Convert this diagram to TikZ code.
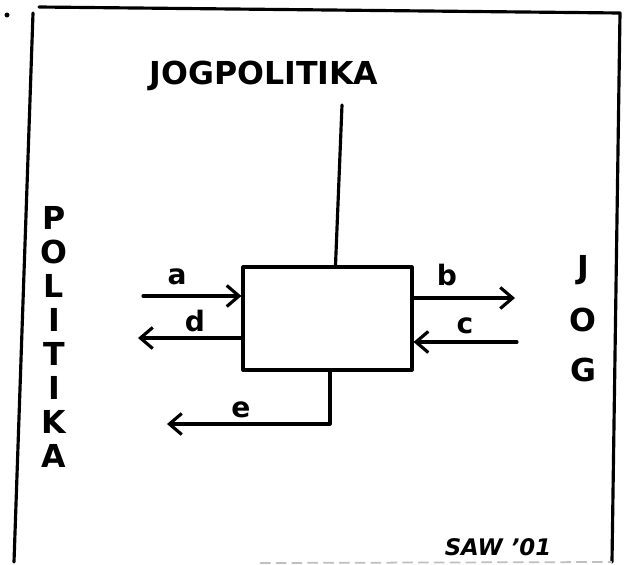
\documentclass[tikz,border=0pt]{standalone}
\usepackage{fontspec}
\setmainfont{DejaVu Sans}
\usetikzlibrary{positioning, arrows.meta, calc}

\begin{document}
\begin{tikzpicture}[
    x=0.02cm, y=-0.02cm,
    % Pen strokes of the sketch
    pen/.style={line width=1.8pt, line cap=round, line join=round},
    flow/.style={pen, -{Straight Barb[length=7pt, width=12pt, line width=1.8pt]}},
    % Lettering
    caps/.style={font=\bfseries\fontsize{18}{20}\selectfont},
    lbl/.style={font=\bfseries\fontsize{16}{18}\selectfont},
    sign/.style={font=\bfseries\itshape\fontsize{13}{14}\selectfont}
]
\useasboundingbox (0,0) rectangle (627,565);

% ==========================================
% FRAME
% ==========================================
\fill (7,15) circle [radius=1.4pt];
\draw[pen] (33,13) -- (14,562);
\draw[pen] (39,7) -- (620,13) -- (612,562);
\draw[gray!50, line width=1pt, dash pattern=on 6pt off 3pt] (260,563) -- (612,562);

% ==========================================
% CENTRE: THE BOX AND ITS FLOWS
% ==========================================
\node[pen, draw, minimum width=3.38cm, minimum height=2.06cm, inner sep=0] (box) at (327.5,318.5) {};

% Top: title and its line
\node[caps] (title) at (264,76) {JOGPOLITIKA};
\coordinate (jog_top) at (342,105);
\draw[pen] (jog_top) -- ($(box.north)+(8,0)$);

% Left side: a in, d out
\coordinate (a_from) at (143,296);
\draw[flow] (a_from) -- (a_from -| box.west);
\node[lbl] (a_lbl) at (177,277) {a};
\coordinate (d_to) at (138,338);
\draw[flow] (d_to -| box.west) -- (d_to);
\node[lbl] (d_lbl) at (195,321) {d};

% Right side: b out, c in
\coordinate (b_to) at (515,298);
\draw[flow] (b_to -| box.east) -- (b_to);
\node[lbl] (b_lbl) at (447,275) {b};
\coordinate (c_from) at (517,342);
\draw[flow] (c_from) -- (c_from -| box.east);
\node[lbl] (c_lbl) at (465,326) {c};

% Bottom: e out
\coordinate (e_to) at (167,424);
\draw[flow] ($(box.south)+(2.5,0)$) |- (e_to);
\node[lbl] (e_lbl) at (241,410) {e};

% ==========================================
% SIDE LETTERING
% ==========================================
\foreach \ch [count=\i from 0] in {P,O,L,I,T,I,K,A}
    \node[caps] (pol-\i) at (54,218+34*\i) {\ch};
\foreach \ch [count=\i from 0] in {J,O,G}
    \node[caps] (jog-\i) at (583,270+50*\i) {\ch};

\node[sign] (sig) at (498,547) {SAW '01};

\end{tikzpicture}
\end{document}
